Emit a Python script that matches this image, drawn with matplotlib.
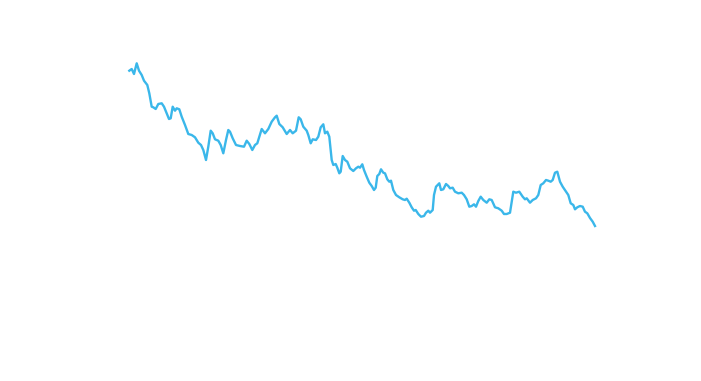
import matplotlib
matplotlib.use("Agg")
import matplotlib.pyplot as plt

# values (x = step, y = level)
steps = [0.3, 2.7, 5, 7.7, 10, 12.7, 15, 18.3, 20.3, 22.7, 24.3, 26.7, 29.3, 32.7, 35,
         37.7, 40, 41.7, 43.7, 46, 47.7, 50.3, 52.7, 56, 59.3, 62.7, 66, 69.3, 72, 74.3,
         77, 79.3, 81.7, 83.7, 86, 89.3, 91.7, 94.3, 97, 99.3, 101, 103.7, 107, 111, 115,
         117.7, 120.3, 123.3, 126, 128.3, 130.3, 132.7, 136, 139.3, 142.7, 146, 147.7, 150.3,
         153.7, 157.7, 161, 163.7, 167, 169.7, 171.7, 174.3, 177.7, 179.3, 181.7, 183.7, 187,
         189.3, 191.7, 194.3, 196, 198.3, 200.3, 202.7, 204.3, 206.7, 208.3, 210.3, 211.7,
         213.7, 216, 218.3, 221, 224.3, 227, 229.3, 231, 233.3, 235, 237.7, 240.3, 242.7,
         245, 246.7, 248.3, 250.3, 252, 254.3, 256, 258.3, 260.3, 262, 264.3, 267, 270.3,
         273.7, 276, 277.7, 280.3, 282.7, 285, 286.7, 289.3, 292, 295, 297, 299.3, 301,
         303.7, 305, 307, 310.3, 312, 314.3, 317, 319.3, 321, 323.7, 326, 329.3, 332.7, 335,
         337.7, 340.3, 342.7, 345, 347, 349.3, 351.7, 354.3, 357.7, 360.3, 362.7, 366, 369.3,
         372.7, 375, 377.7, 381, 384.3, 387, 390.3, 393.7, 396, 397.7, 401, 403.7, 407,
         409.3, 411.7, 414.3, 417, 419.3, 421.7, 423.7, 426, 428.3, 431, 433.7, 437, 439.3,
         441.7, 444.3, 446, 448.3, 451, 453.7, 456, 458.3, 461, 463.7, 466]
levels = [179.3, 181, 176, 186.7, 179.3, 175, 169.3, 165, 156.7, 143.3, 142.7, 141, 146,
          146.7, 143.3, 136.7, 131, 131.7, 143.3, 139.3, 141.7, 140.7, 133.3, 125, 116, 115,
          112.7, 107.3, 105, 100, 90, 103.3, 119.3, 116.7, 110.7, 109.3, 105, 96.7, 110, 120,
          118.3, 111.7, 105, 104, 103.3, 109.3, 106, 100, 105, 106.7, 113.3, 121, 116.7, 121,
          128.3, 132.7, 134.3, 126, 122.7, 116, 120, 116.7, 119.3, 132.7, 130.7, 123.3, 119.3,
          115, 106.7, 110.7, 110, 113.3, 122.7, 125.7, 116.7, 118.3, 113.3, 90, 85, 86, 82.3,
          76.7, 78.3, 94, 90, 88.3, 81.7, 79, 81.7, 83.3, 82.3, 85.7, 80, 73.3, 67.3, 64, 60,
          62.3, 74, 76, 80.7, 77.3, 76.7, 70.7, 68.3, 69.3, 60, 55, 52.7, 50.7, 50, 51.3, 47.3,
          42.7, 39.3, 40, 36, 33.3, 34, 37.3, 39.3, 37.3, 40, 55, 63.3, 66.7, 60, 60.7, 66, 64,
          61.7, 62.3, 58.3, 56.7, 57.3, 55, 50.7, 43.3, 44, 45.7, 43.3, 49, 53.3, 50, 47.3,
          50.7, 50, 42.7, 41.7, 39.3, 36, 36, 37.3, 58.3, 57.3, 58.3, 53.3, 50.7, 51.7, 47.3,
          50, 51.7, 55, 65, 66.7, 70, 69.3, 68.3, 70, 77.3, 78.3, 68.3, 63.3, 58.3, 55, 46.7,
          45, 40.7, 42.7, 44, 43.3, 38.3, 36.7, 32, 28.3, 24]

fig = plt.figure(figsize=(7.01, 3.81), dpi=100)
ax = fig.add_axes([0, 0, 1, 1])
ax.plot(steps, levels, color="#3ab7ea", linewidth=1.7, solid_joinstyle="round")
ax.set_xlim(-129, 572)
ax.set_ylim(-131, 250)
ax.axis("off")

fig.savefig("out.png", dpi=100, facecolor="white")
